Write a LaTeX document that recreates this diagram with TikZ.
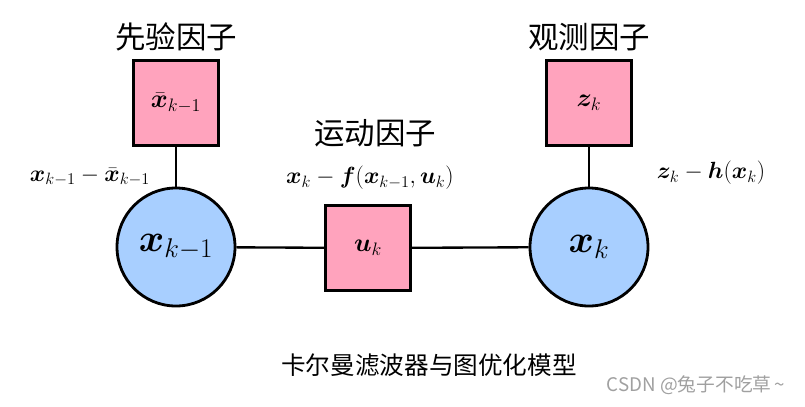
\RequirePackage{fix-cm}
\documentclass[tikz,border=0pt]{standalone}
\usepackage{amsmath}
\usepackage{bm}
\usepackage{fontspec}
\newfontfamily\cjk{Noto Sans CJK SC}
\definecolor{factorpink}{HTML}{FFA3BD}
\definecolor{varblue}{HTML}{A8CFFF}
\definecolor{markgray}{HTML}{A0A0A0}
\begin{document}
\begin{tikzpicture}[x=0.03cm, y=-0.03cm,
		factorbox/.style={draw, rectangle, fill=factorpink, minimum size=2.55cm, line width=2.4pt, font=\fontsize{22}{26}\selectfont},
		varnode/.style={draw, circle, fill=varblue, minimum size=3.54cm, line width=2.4pt, font=\fontsize{33}{40}\selectfont},
		title/.style={font=\cjk\fontsize{26}{30}\selectfont},
		eqlabel/.style={font=\fontsize{20}{24}\selectfont}]
		\useasboundingbox (0,0) rectangle (805,406);

		\node[factorbox] (prior) at (176,103) {$\bar{\bm{x}}_{k-1}$};
		\node[factorbox] (motion) at (368,248) {$\bm{u}_k$};
		\node[factorbox] (obs) at (589,103) {$\bm{z}_k$};

		\node[varnode] (xkm1) at (176,247) {$\bm{x}_{k-1}$};
		\node[varnode] (xk) at (589,247) {$\bm{x}_k$};

		\draw[line width=2pt] (prior) -- (xkm1);
		\draw[line width=2pt] (xkm1) -- (motion);
		\draw[line width=2pt] (motion) -- (xk);
		\draw[line width=2pt] (obs) -- (xk);

		\node[title] (priortitle) at (176,37) {先验因子};
		\node[title] (motiontitle) at (375,133) {运动因子};
		\node[title] (obstitle) at (589,37) {观测因子};

		\node[eqlabel] (prioreq) at (90,177) {$\bm{x}_{k-1}-\bar{\bm{x}}_{k-1}$};
		\node[eqlabel] (motioneq) at (370,178) {$\bm{x}_k-\bm{f}(\bm{x}_{k-1},\bm{u}_k)$};
		\node[eqlabel] (obseq) at (711,173) {$\bm{z}_k-\bm{h}(\bm{x}_k)$};

		\node[font=\cjk\fontsize{21}{25}\selectfont] (caption) at (429,365) {卡尔曼滤波器与图优化模型};
		\node[font=\cjk\fontsize{16}{20}\selectfont, text=markgray] (mark) at (696,385) {CSDN @兔子不吃草\,\textasciitilde};

	\end{tikzpicture}
\end{document}
